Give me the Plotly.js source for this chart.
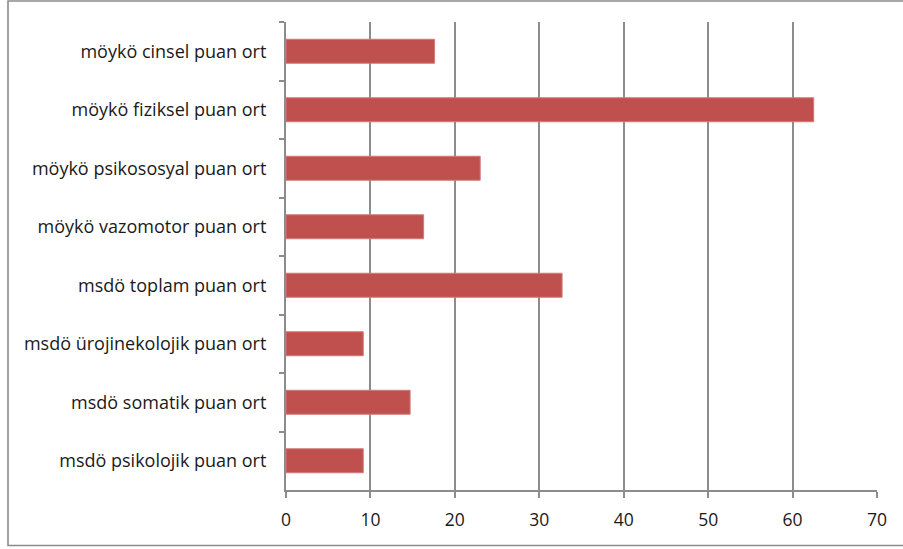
<!DOCTYPE html>
<html>
<head>
<meta charset="utf-8">
<script src="https://cdn.plot.ly/plotly-3.0.1.min.js"></script>
<style>
  html, body { margin: 0; padding: 0; background: #ffffff; }
  #chart { width: 903px; height: 549px; }
</style>
</head>
<body>
<div id="chart"></div>
<script>
// Categories listed top to bottom as in the reference
const categories = [
  "möykö cinsel puan ort",
  "möykö fiziksel puan ort",
  "möykö psikososyal puan ort",
  "möykö vazomotor puan ort",
  "msdö toplam puan ort",
  "msdö ürojinekolojik puan ort",
  "msdö somatik puan ort",
  "msdö psikolojik puan ort"
];
const values = [17.6, 62.5, 23.0, 16.3, 32.7, 9.15, 14.7, 9.15];
const xTickValues = [0, 10, 20, 30, 40, 50, 60, 70];

const L = 286, R = 26, T = 22, B = 59, W = 903, H = 549;
const pw = W - L - R, ph = H - T - B;
const px = v => (v - L) / pw;
const py = v => (H - B - v) / ph;

const trace = {
  type: "bar",
  orientation: "h",
  x: values,
  y: categories,
  marker: { color: "#c0504d", line: { color: "#d27a77", width: 1 } },
  hoverinfo: "x+y"
};

const gray = "#8c8c8c";
const yfnt = { family: "Open Sans, sans-serif", size: 18, color: "#1a1a1a" };
const xfnt = { family: "Open Sans, sans-serif", size: 17.5, color: "#1a1a1a" };
const layout = {
  width: W, height: H,
  margin: { l: L, r: R, t: T, b: B, pad: 0 },
  paper_bgcolor: "#ffffff",
  plot_bgcolor: "#ffffff",
  showlegend: false,
  bargap: 0.59,
  font: yfnt,
  xaxis: {
    range: [0, 70],
    tickvals: xTickValues,
    ticktext: xTickValues.map(String),
    showgrid: true, gridcolor: gray, gridwidth: 2,
    showline: true, linecolor: gray, linewidth: 2,
    ticks: "outside", ticklen: 6, tickcolor: gray, tickwidth: 2,
    zeroline: false,
    ticklabelstandoff: 7,
    tickfont: xfnt,
    fixedrange: true
  },
  yaxis: {
    type: "category",
    autorange: "reversed",
    showgrid: false,
    showline: true, linecolor: gray, linewidth: 2,
    ticks: "outside", ticklen: 5, tickcolor: gray, tickwidth: 2,
    tickson: "boundaries",
    ticklabelstandoff: 14,
    zeroline: false,
    tickfont: yfnt,
    fixedrange: true
  },
  shapes: [{
    type: "rect", xref: "paper", yref: "paper",
    x0: px(8), x1: px(906), y0: py(545.5), y1: py(1),
    line: { color: "#8c8c8c", width: 1.6 },
    fillcolor: "rgba(0,0,0,0)",
    layer: "below"
  }]
};

Plotly.newPlot("chart", [trace], layout, { displayModeBar: false, staticPlot: true });
</script>
</body>
</html>
